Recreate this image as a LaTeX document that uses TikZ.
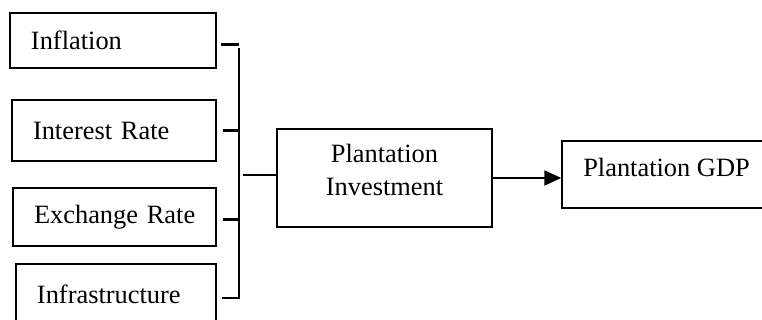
\documentclass[tikz,border=0pt]{standalone}
\usepackage{fontspec}
\setmainfont{Liberation Serif}
\usetikzlibrary{arrows.meta}

\begin{document}
\begin{tikzpicture}[x=0.5pt, y=-0.5pt, font=\fontsize{13.2pt}{16.5pt}\selectfont,
        box/.style = {draw, line width=1pt, rectangle, inner xsep=10.5pt, inner ysep=0pt, align=left},
        stub/.style = {line width=1.5pt},
        bus/.style = {line width=1pt}]
        \useasboundingbox (0,0) rectangle (762,320);
        % factors
        \node[box, text width=82pt, minimum height=27.5pt] (infl) at (113,40.5) {\mbox{Inflation}};
        \node[box, text width=81pt, minimum height=30.5pt] (intr) at (114,130.5) {\mbox{Interest Rate}};
        \node[box, text width=80.5pt, minimum height=29pt] (exch) at (114.5,217) {\mbox{Exchange Rate}};
        \node[box, text width=79pt, minimum height=30pt] (infra) at (116,294) {\mbox{Infrastructure}};
        % investment and output
        \node[box, align=center, minimum width=107.5pt, minimum height=49pt, text depth=8.5pt] (pi) at (384.5,178) {Plantation\\Investment};
        \node[box, minimum width=103.5pt, minimum height=33.5pt, text height=0.7em, text depth=0.49em] (gdp) at (666.5,174.5) {Plantation GDP};
        % bus
        \coordinate (b1) at (239,45);
        \coordinate (btop) at (239,48);
        \coordinate (b2) at (239,131);
        \coordinate (b3) at (239,220);
        \coordinate (b4) at (239,298);
        \coordinate (bm) at (243,175);
        \draw[stub, shorten <=2pt] (infl.east |- b1) -- (b1);
        \draw[stub, shorten <=3pt] (intr.east |- b2) -- (b2);
        \draw[stub, shorten <=3pt] (exch.east |- b3) -- (b3);
        \draw[bus, shorten <=2.5pt] (infra.east |- b4) -- (b4) -- (btop);
        \draw[bus] (bm) -- (bm -| pi.west);
        \draw[bus, -{Triangle[length=8.5pt, width=7.5pt]}] (pi.east) -- (gdp.west |- pi.east);
    \end{tikzpicture}
\end{document}
